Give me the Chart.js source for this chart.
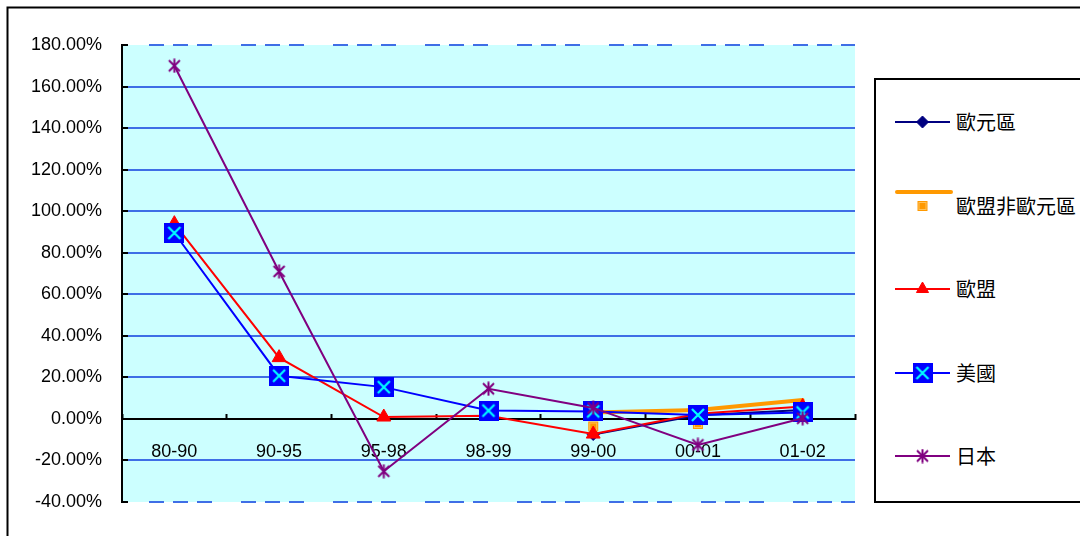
<!DOCTYPE html>
<html>
<head>
<meta charset="utf-8">
<script src="https://cdn.jsdelivr.net/npm/chart.js@4.4.0/dist/chart.umd.min.js"></script>
<style>
body { margin: 0; background: #fff; overflow: hidden; }
#wrap { position: relative; width: 1080px; height: 536px; }
#legendBox { position: absolute; left: 874px; top: 78px; width: 240px; height: 421px; border: 2px solid #000; background: #fff; }
.item { position: absolute; left: 0; width: 240px; height: 40px; }
.item canvas { position: absolute; left: 19px; top: 0; }
.item span { position: absolute; left: 80px; top: 0; line-height: 40px; font-size: 20px; font-family: "Noto Sans CJK TC", "Noto Sans CJK SC", sans-serif; color: #000; white-space: nowrap; }
</style>
</head>
<body>
<div id="wrap">
  <canvas id="growthChart" width="1080" height="536"></canvas>
  <div id="legendBox"></div>
</div>
<script>
// periods and growth rates (%)
var categories = ['80-90', '90-95', '95-98', '98-99', '99-00', '00-01', '01-02'];
var seriesNames = ['歐元區', '歐盟非歐元區', '歐盟', '美國', '日本'];

var euroArea  = [null, null, null, null, -7.5, 1.8, 4.3];
var euNonEuro = [null, null, null, null, 3.1, 4.3, 9.1];
var eu        = [94, 29.5, 0.9, 1.5, -7.3, 2.5, 6];
var usa       = [89.5, 20.8, 15.3, 4, 3.6, 1.9, 3.1];
var japan     = [170, 71, -25.2, 14.5, 5.3, -12.5, 0.3];

var yMin = -40, yMax = 180, yStep = 20;

var gridBlue = '#3f6ee6';
var labelFont = { family: '"Liberation Sans", Arial, sans-serif', size: 18 };


function makeCanvas(w, h, draw) {
    var c = document.createElement('canvas');
    c.width = w;
    c.height = h;
    draw(c.getContext('2d'), w, h);
    return c;
} // make canvas

// blue box with a cyan cross
var usaMarker = makeCanvas(20, 20, function(ctx, w, h) {
    ctx.fillStyle = '#0000ff';
    ctx.fillRect(0, 0, w, h);
    ctx.strokeStyle = '#00ffff';
    ctx.lineWidth = 2.2;
    ctx.beginPath();
    ctx.moveTo(4, 4); ctx.lineTo(w - 4, h - 4);
    ctx.moveTo(w - 4, 4); ctx.lineTo(4, h - 4);
    ctx.stroke();
});

// x with a vertical bar through it
var japanMarker = makeCanvas(15, 15, function(ctx, w, h) {
    ctx.strokeStyle = '#800080';
    ctx.lineWidth = 2;
    ctx.beginPath();
    ctx.moveTo(2, 2); ctx.lineTo(w - 2, h - 2);
    ctx.moveTo(w - 2, 2); ctx.lineTo(2, h - 2);
    ctx.moveTo(w / 2, 0.5); ctx.lineTo(w / 2, h - 0.5);
    ctx.stroke();
});

// small square that sits under its line
var orangeMarker = makeCanvas(12, 40, function(ctx, w, h) {
    ctx.fillStyle = '#ff9900';
    ctx.fillRect(1, 29, 10, 10);
    ctx.strokeStyle = '#ffc25a';
    ctx.lineWidth = 1;
    ctx.strokeRect(2.5, 30.5, 7, 7);
});


var datasets = [
    {
        label: seriesNames[0], data: euroArea, order: 5,
        borderColor: '#000080', backgroundColor: '#000080', borderWidth: 2,
        pointStyle: 'rectRot', pointRadius: 6, pointBorderWidth: 1
    },
    {
        label: seriesNames[1], data: euNonEuro, order: 4,
        borderColor: '#ff9900', backgroundColor: '#ff9900', borderWidth: 4,
        borderCapStyle: 'round',
        pointStyle: orangeMarker, pointRadius: 6
    },
    {
        label: seriesNames[2], data: eu, order: 3,
        borderColor: '#ff0000', backgroundColor: '#ff0000', borderWidth: 2,
        pointStyle: 'triangle', pointRadius: 8, pointBorderWidth: 1
    },
    {
        label: seriesNames[3], data: usa, order: 2,
        borderColor: '#0000ff', backgroundColor: '#0000ff', borderWidth: 2,
        pointStyle: usaMarker, pointRadius: 10
    },
    {
        label: seriesNames[4], data: japan, order: 1,
        borderColor: '#800080', backgroundColor: '#800080', borderWidth: 2,
        pointStyle: japanMarker, pointRadius: 8
    }
];


// cyan plot area and the outer frame
var plotBackground = {
    id: 'plotBackground',
    beforeDraw: function(chart) {
        var ctx = chart.ctx;
        var a = chart.chartArea;
        ctx.save();
        ctx.fillStyle = '#fff';
        ctx.fillRect(0, 0, chart.width, chart.height);
        ctx.fillStyle = '#ccffff';
        ctx.fillRect(a.left, a.top, a.right - a.left, a.bottom - a.top);
        ctx.strokeStyle = '#000';
        ctx.lineWidth = 2;
        ctx.strokeRect(7.5, 7.5, chart.width + 20, chart.height + 20);
        ctx.restore();
    }
};


function isEdge(value) {
    return value === yMin || value === yMax;
}

var chart = new Chart(document.getElementById('growthChart'), {
    type: 'line',
    data: { labels: categories, datasets: datasets },
    options: {
        responsive: false,
        animation: false,
        devicePixelRatio: 1,
        layout: { padding: { left: 22, right: 225, top: 45, bottom: 34 } },
        elements: { line: { tension: 0 } },
        plugins: {
            legend: { display: false },
            tooltip: { enabled: false }
        },
        scales: {
            x: {
                type: 'category',
                offset: true,
                position: { y: 0 },
                grid: {
                    offset: true,
                    drawOnChartArea: false,
                    tickLength: -6,
                    tickColor: '#000',
                    tickWidth: 2
                },
                border: { color: '#000', width: 2 },
                ticks: { color: '#000', font: labelFont, padding: 28, maxRotation: 0 }
            },
            y: {
                min: yMin,
                max: yMax,
                // fixed width, and the layout padding alone sets the plot top and bottom
                afterFit: function(scale) {
                    scale.width = 100;
                    scale.paddingTop = 0;
                    scale.paddingBottom = 0;
                },
                grid: {
                    color: function(c) { return c.tick && c.tick.value === 0 ? '#000' : gridBlue; },
                    lineWidth: 2,
                    tickLength: -6,
                    tickColor: '#000',
                    tickWidth: 2
                },
                border: {
                    color: '#000',
                    width: 2,
                    dash: function(c) { return c.tick && isEdge(c.tick.value) ? [15, 9, 15, 9, 15, 29] : []; },
                    dashOffset: 66
                },
                ticks: {
                    stepSize: yStep,
                    color: '#000',
                    font: labelFont,
                    padding: 26,
                    callback: function(v) { return v.toFixed(2) + '%'; }
                }
            }
        }
    },
    plugins: [plotBackground]
});


// legend on the right, one row per series
function buildLegend() {
    var box = document.getElementById('legendBox');
    datasets.forEach(function(ds, i) {
        var row = document.createElement('div');
        row.className = 'item';
        row.style.top = (22 + i * 83.6) + 'px';

        var lineY = ds.pointStyle === orangeMarker ? 6 : 20;
        var sym = makeCanvas(60, 40, function(ctx) {
            ctx.strokeStyle = ds.borderColor;
            ctx.lineWidth = ds.borderWidth;
            ctx.lineCap = ds.borderCapStyle || 'butt';
            ctx.beginPath();
            ctx.moveTo(ds.borderWidth > 2 ? 2 : 0, lineY);
            ctx.lineTo(ds.borderWidth > 2 ? 56 : 55, lineY);
            ctx.stroke();
            ctx.fillStyle = ds.backgroundColor;
            ctx.lineWidth = ds.pointBorderWidth || 0;
            Chart.helpers.drawPoint(ctx, {
                pointStyle: ds.pointStyle,
                radius: ds.pointStyle === 'triangle' ? 7 : 6,
                rotation: 0,
                borderWidth: ds.pointBorderWidth || 0
            }, 27.5, lineY);
        });
        row.appendChild(sym);

        var txt = document.createElement('span');
        txt.textContent = ds.label;
        row.appendChild(txt);
        box.appendChild(row);
    });
} // build legend

buildLegend();
</script>
</body>
</html>
